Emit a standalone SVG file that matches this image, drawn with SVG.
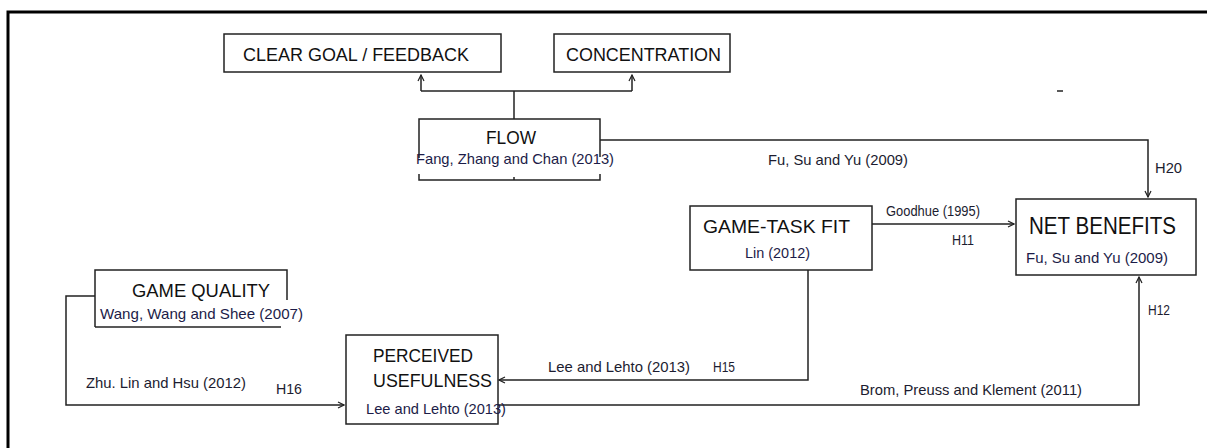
<svg xmlns="http://www.w3.org/2000/svg" width="1207" height="448" viewBox="0 0 1207 448">
<style>
.box{fill:#fff;stroke:#222;stroke-width:1.5}
.ln{fill:none;stroke:#222;stroke-width:1.5}
.t{font-family:"Liberation Sans",Arial,sans-serif;fill:#111}
.big{font-size:19px}
.cit{font-size:15px;fill:#1c1c48}
.lab{font-size:14.5px;fill:#1c1c30}
</style>
<defs>
<marker id="ah" viewBox="0 0 8 8" refX="7" refY="4" markerWidth="8" markerHeight="8" markerUnits="userSpaceOnUse" orient="auto">
<path d="M1,1 L7,4 L1,7" fill="none" stroke="#222" stroke-width="1.2"/>
</marker>
</defs>
<rect width="1207" height="448" fill="#fff"/>
<path d="M8,448 V12 H1207" fill="none" stroke="#000" stroke-width="3"/>
<line x1="1057" y1="91" x2="1063" y2="91" stroke="#222" stroke-width="1.5"/>

<g id="connectors">
<path class="ln" d="M514,119 V91"/>
<path class="ln" d="M421,91 H632"/>
<path class="ln" d="M421,91 V75" marker-end="url(#ah)"/>
<path class="ln" d="M632,91 V75" marker-end="url(#ah)"/>
<path class="ln" d="M600,140 H1148 V197" marker-end="url(#ah)"/>
<path class="ln" d="M872,224 H1014" marker-end="url(#ah)"/>
<path class="ln" d="M808,270 V380 H499" marker-end="url(#ah)"/>
<path class="ln" d="M498,405 H1139 V277" marker-end="url(#ah)"/>
<path class="ln" d="M95,296 H66 V405 H344" marker-end="url(#ah)"/>
<text class="t lab" x="768" y="165" textLength="140" lengthAdjust="spacingAndGlyphs">Fu, Su and Yu (2009)</text>
<text class="t lab" x="1155" y="173" textLength="27" lengthAdjust="spacingAndGlyphs">H20</text>
<text class="t lab" x="886" y="216" textLength="94" lengthAdjust="spacingAndGlyphs">Goodhue (1995)</text>
<text class="t lab" x="952" y="245" textLength="22" lengthAdjust="spacingAndGlyphs">H11</text>
<text class="t lab" x="548" y="372" textLength="142" lengthAdjust="spacingAndGlyphs">Lee and Lehto (2013)</text>
<text class="t lab" x="713" y="372" textLength="22" lengthAdjust="spacingAndGlyphs">H15</text>
<text class="t lab" x="860" y="395" textLength="222" lengthAdjust="spacingAndGlyphs">Brom, Preuss and Klement (2011)</text>
<text class="t lab" x="1148" y="315" textLength="22" lengthAdjust="spacingAndGlyphs">H12</text>
<text class="t lab" x="86" y="388" textLength="160" lengthAdjust="spacingAndGlyphs">Zhu. Lin and Hsu (2012)</text>
<text class="t lab" x="276" y="394" textLength="26" lengthAdjust="spacingAndGlyphs">H16</text>
</g>

<g id="clear-goal">
<rect class="box" x="224" y="34" width="277" height="38"/>
<text class="t big" x="243" y="61" textLength="226" lengthAdjust="spacingAndGlyphs">CLEAR GOAL / FEEDBACK</text>
</g>

<g id="concentration">
<rect class="box" x="554" y="34" width="176" height="38"/>
<text class="t big" x="566" y="61" textLength="155" lengthAdjust="spacingAndGlyphs">CONCENTRATION</text>
</g>

<g id="flow">
<path class="ln" d="M419,158 V119 H600 V157"/>
<path class="ln" d="M419,174 V180 H600 V174 M514,180 V177"/>
<text class="t big" x="486" y="144" textLength="50" lengthAdjust="spacingAndGlyphs">FLOW</text>
<text class="t cit" x="416" y="164" textLength="198" lengthAdjust="spacingAndGlyphs">Fang, Zhang and Chan (2013)</text>
</g>

<g id="game-task-fit">
<rect class="box" x="690" y="206" width="182" height="64"/>
<text class="t big" x="703" y="233" textLength="147" lengthAdjust="spacingAndGlyphs">GAME-TASK FIT</text>
<text class="t cit" x="745" y="258" textLength="65" lengthAdjust="spacingAndGlyphs">Lin (2012)</text>
</g>

<g id="net-benefits">
<rect class="box" x="1016" y="199" width="180" height="76"/>
<text class="t" font-size="23" x="1029" y="234" textLength="147" lengthAdjust="spacingAndGlyphs">NET BENEFITS</text>
<text class="t cit" x="1026" y="263" textLength="142" lengthAdjust="spacingAndGlyphs">Fu, Su and Yu (2009)</text>
</g>

<g id="game-quality">
<path class="ln" d="M95,327 V270 H287 V300"/>
<path class="ln" d="M95,327 H281"/>
<text class="t big" x="132" y="297" textLength="138" lengthAdjust="spacingAndGlyphs">GAME QUALITY</text>
<text class="t cit" x="100" y="319" textLength="203" lengthAdjust="spacingAndGlyphs">Wang, Wang and Shee (2007)</text>
</g>

<g id="perceived-usefulness">
<rect class="box" x="346" y="335" width="152" height="89"/>
<text class="t big" x="373" y="362" textLength="100" lengthAdjust="spacingAndGlyphs">PERCEIVED</text>
<text class="t big" x="373" y="387" textLength="119" lengthAdjust="spacingAndGlyphs">USEFULNESS</text>
<text class="t cit" x="366" y="414" textLength="140" lengthAdjust="spacingAndGlyphs">Lee and Lehto (2013)</text>
</g>
</svg>
